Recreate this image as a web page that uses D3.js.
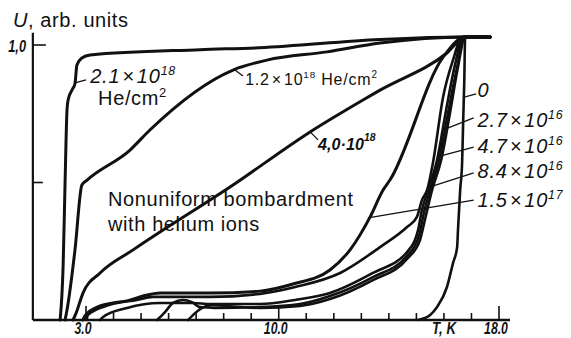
<!DOCTYPE html>
<meta charset="utf-8">

<script src="https://d3js.org/d3.v7.min.js"></script>

<div id="main"></div>

<style>
body { margin: 0; background: #fff; }
text { font-family: "Liberation Sans", Arial, sans-serif; fill: #111; }
.curve { fill: none; stroke: #111; stroke-linejoin: round; stroke-linecap: round; }
.leader { stroke: #111; stroke-width: 1.3; fill: none; }
.num { font-weight: bold; font-style: italic; font-size: 17px; }
.lab { font-size: 20px; letter-spacing: 0.6px; }
</style>

<script>

// U(T) curves, [T in K, U in arb. units]
const c2_1e18 = [[2.06,0],[2.17,0.2],[2.24,0.5],[2.31,0.764],[2.35,0.80],[2.49,0.836],[2.60,0.86],[2.67,0.927],
  [2.85,0.953],[3.15,0.964],[7.14,0.983],[9.3,0.99],[13.68,1.02],[16.77,1.029],[17.68,1.029]];
const c1_2e18 = [[2.24,0],[2.31,0.036],[2.60,0.255],[2.85,0.491],[3.04,0.509],[4.6,0.618],[5.32,0.691],[8.34,0.909],
  [9.57,0.945],[11.75,0.975],[13.68,1.007],[16.77,1.029],[17.68,1.029]];
const c4_0e18 = [[2.53,0],[2.64,0.025],[2.89,0.098],[3.51,0.171],[4.71,0.255],[8.34,0.491],[11.14,0.684],[13.06,0.80],
  [13.68,0.836],[16.11,0.971],[16.77,1.029],[17.68,1.029]];
const cNonuniform = [[2.89,0],[2.96,0.015],[3.51,0.051],[3.98,0.062],[4.49,0.069],[5.07,0.087],[5.69,0.098],[7.5,0.098],
  [9.32,0.105],[10.52,0.131],[11.86,0.182],[12.59,0.255],[13.32,0.375],[13.79,0.473],[14.04,0.509],[15.97,0.956],
  [16.77,1.029],[17.68,1.029]];
const c1_5e17 = [[3.02,0],[3.07,0.018],[3.87,0.055],[4.85,0.073],[5.43,0.084],[7.5,0.084],[9.32,0.095],[10.6,0.12],
  [12.23,0.171],[13.68,0.265],[14.66,0.338],[15.02,0.375],[15.2,0.436],[15.39,0.473],[15.6,0.571],[15.97,0.811],
  [16.33,0.945],[16.66,1.029],[17.68,1.029]];
const c8_4e16 = [[3.51,0],[3.62,0.011],[4.49,0.044],[5.69,0.062],[6.89,0.062],[7.5,0.058],[9.32,0.058],[10.6,0.073],
  [11.86,0.098],[13.42,0.171],[14.66,0.247],[15.06,0.327],[15.2,0.40],[15.43,0.473],[15.75,0.582],[16.08,0.764],
  [16.4,0.927],[16.7,1.029],[17.68,1.029]];
const c4_7e16 = [[5.58,0],[5.87,0.029],[6.16,0.062],[6.52,0.073],[6.85,0.065],[7.14,0.047],[7.69,0.044],[9.32,0.047],
  [10.77,0.058],[11.86,0.087],[13.42,0.156],[14.66,0.233],[15.1,0.309],[15.28,0.393],[15.5,0.473],[15.82,0.582],
  [16.15,0.753],[16.48,0.92],[16.74,1.029],[17.68,1.029]];
const c2_7e16 = [[6.71,0],[6.96,0.025],[7.22,0.044],[7.58,0.055],[8.05,0.051],[9.32,0.044],[10.77,0.051],[11.86,0.076],
  [13.42,0.145],[14.66,0.222],[15.13,0.291],[15.35,0.382],[15.57,0.473],[15.9,0.582],[16.22,0.753],[16.51,0.92],
  [16.77,1.029],[17.68,1.029]];
const c0 = [[15.06,0],[15.5,0.018],[15.75,0.047],[16.11,0.12],[16.33,0.207],[16.48,0.265],[16.51,0.327],[16.59,0.473],
  [16.66,0.571],[16.7,0.727],[16.74,0.873],[16.77,1.029],[17.68,1.029]];

const curves = [c2_1e18, c1_2e18, c4_0e18, cNonuniform, c1_5e17, c8_4e16, c4_7e16, c2_7e16, c0];

// axes
const xMinor = d3.range(3, 19);
const xMajor = [3, 10, 18];
const xTickLabels = ["3.0", "10.0", "18.0"];
const yTicks = [0.5, 1.0];
const yTickLabels = ["", "1,0"];

// labels on the right of the bundle
const rightMant = ["0", "2.7", "4.7", "8.4", "1.5"];
const rightExp = ["", "16", "16", "16", "17"];
const rightU = [0.811, 0.702, 0.607, 0.516, 0.411];
const leaderFrom = [[16.77,0.811],[15.97,0.691],[15.75,0.593],[15.5,0.484],[13.24,0.371]];
const leaderTo = [[17.17,0.822],[17.08,0.735],[17.08,0.629],[17.08,0.535],[17.08,0.436]];

const width = 571, height = 338;

let svg = d3.select("#main").append("svg")
    .attr("width", width)
    .attr("height", height);

let x = d3.scaleLinear().domain([3, 18]).range([86, 499]),
    y = d3.scaleLinear().domain([0, 1]).range([320, 45]);

// axis lines
svg.append("line")
    .attr("x1", x(1.07)).attr("x2", x(18.4))
    .attr("y1", y(0)).attr("y2", y(0))
    .attr("stroke", "#111").attr("stroke-width", 2.5);
svg.append("line")
    .attr("x1", x(1.07)).attr("x2", x(1.07))
    .attr("y1", y(0)).attr("y2", y(1.045))
    .attr("stroke", "#111").attr("stroke-width", 2.2);

// x ticks point up
svg.append("g").selectAll("line")
    .data(xMinor)
  .enter().append("line")
    .attr("x1", d => x(d)).attr("x2", d => x(d))
    .attr("y1", y(0))
    .attr("y2", d => y(0) - (xMajor.includes(d) ? 14 : 7))
    .attr("stroke", "#111").attr("stroke-width", 1.6);

svg.append("g").selectAll("text")
    .data(xMajor)
  .enter().append("text")
    .attr("class", "num")
    .attr("font-size", 16)
    .attr("text-anchor", "middle")
    .attr("transform", d => "translate(" + (x(d) - 3) + "," + 333.5 + ") scale(0.72,1)")
    .text((d, i) => xTickLabels[i]);

svg.append("text")
    .attr("class", "num")
    .attr("font-size", 16)
    .attr("text-anchor", "middle")
    .attr("transform", "translate(" + x(16) + "," + 333.5 + ") scale(0.78,1)")
    .text("T, K");

// y ticks point right
svg.append("g").selectAll("line")
    .data(yTicks)
  .enter().append("line")
    .attr("x1", x(1.07)).attr("x2", (d, i) => x(1.07) + (i ? 13 : 10))
    .attr("y1", d => y(d)).attr("y2", d => y(d))
    .attr("stroke", "#111").attr("stroke-width", 1.6);

svg.append("g").selectAll("text")
    .data(yTicks)
  .enter().append("text")
    .attr("class", "num")
    .attr("text-anchor", "end")
    .attr("transform", d => "translate(" + 26 + "," + (y(d) + 7) + ") scale(0.75,1)")
    .text((d, i) => yTickLabels[i]);

let yTitle = svg.append("text")
    .attr("class", "lab")
    .attr("x", 13).attr("y", 27);
yTitle.append("tspan").attr("font-style", "italic").text("U");
yTitle.append("tspan").text(", arb. units");

// curves
let line = d3.line()
    .x(d => x(d[0]))
    .y(d => y(d[1]))
    .curve(d3.curveMonotoneX);

svg.append("g").selectAll("path")
    .data(curves)
  .enter().append("path")
    .attr("class", "curve")
    .attr("stroke-width", (d, i) => i < 4 ? 3 : 2.6)
    .attr("d", line);

// leaders
function leader(a, b) {
  svg.append("line")
      .attr("class", "leader")
      .attr("x1", x(a[0])).attr("y1", y(a[1]))
      .attr("x2", x(b[0])).attr("y2", y(b[1]));
}

function dose(tx, ty, mant, exp, size, italic) {
  let t = svg.append("text")
      .attr("x", tx).attr("y", ty)
      .attr("font-size", size)
      .attr("letter-spacing", "0.8px");
  if (italic) t.attr("font-style", "italic");
  t.append("tspan").text(mant);
  if (exp) {
    t.append("tspan").text("\u00d7").attr("dx", 2);
    t.append("tspan").text("10").attr("dx", 2);
    t.append("tspan").text(exp).attr("font-size", size * 0.62).attr("dy", -size * 0.42);
  }
  return t;
}

leader([2.60, 0.862], [3.0, 0.873]);
dose(x(3.15), y(0.862), "2.1", "18", 20, true);
let he = svg.append("text").attr("class", "lab").attr("x", x(3.44)).attr("y", y(0.782));
he.append("tspan").text("He/cm");
he.append("tspan").text("2").attr("font-size", 13).attr("dy", -8);

leader([8.41, 0.909], [8.70, 0.887]);
let t12 = dose(x(8.78), y(0.855), "1.2", "18", 16, false);
t12.append("tspan").text(" He/cm").attr("dy", 6.7);
t12.append("tspan").text("2").attr("font-size", 10).attr("dy", -6.7);

leader([11.14, 0.684], [11.43, 0.655]);
let t40 = svg.append("text")
    .attr("class", "num")
    .attr("font-size", 16)
    .attr("transform", "translate(" + x(11.43) + "," + y(0.618) + ") scale(0.95,1)");
t40.append("tspan").text("4,0\u00b710");
t40.append("tspan").text("18").attr("font-size", 11).attr("dy", -9);

// nonuniform bombardment
svg.append("text").attr("class", "lab").attr("x", x(3.8)).attr("y", y(0.415)).text("Nonuniform bombardment");
svg.append("text").attr("class", "lab").attr("x", x(3.8)).attr("y", y(0.324)).text("with helium ions");

rightMant.forEach((m, i) => {
  leader(leaderFrom[i], leaderTo[i]);
  dose(x(17.22), y(rightU[i]), m, rightExp[i], 20, true);
});

</script>
